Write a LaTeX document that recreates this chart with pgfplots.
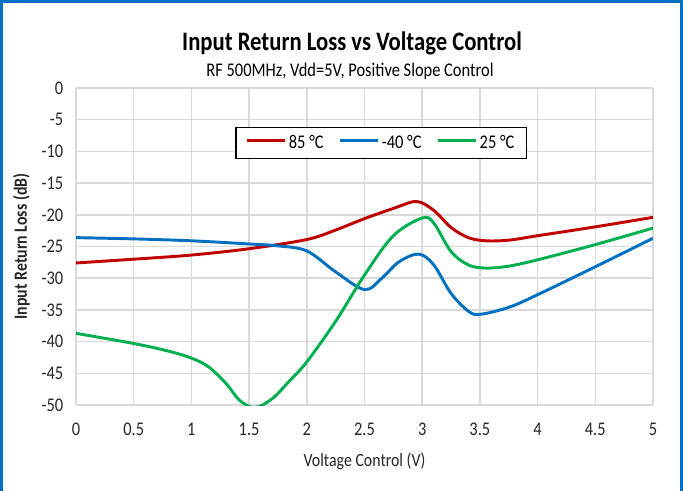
\documentclass[border=0pt]{standalone}
\usepackage{fontspec}
\setmainfont{Carlito}[FakeStretch=0.85]
\usepackage{pgfplots}
\pgfplotsset{compat=1.18}
\definecolor{cred}{HTML}{C00000}
\definecolor{cblue}{HTML}{0070C0}
\definecolor{cgreen}{HTML}{00B050}
\definecolor{cgrid}{HTML}{D9D9D9}
\begin{document}
\begin{tikzpicture}[x=0.75pt,y=0.75pt]
\useasboundingbox (0,0) rectangle (683,490);
\draw[cblue,line width=1.8pt] (1.5,-5) -- (1.5,488.5) -- (681.5,488.5) -- (681.5,-5);
\node[font=\bfseries\fontsize{20}{22}\selectfont] at (352,447) {Input Return Loss vs Voltage Control};
\node[font=\fontsize{14.5}{16}\selectfont] at (350,419) {RF 500MHz, Vdd=5V, Positive Slope Control};
\begin{axis}[
  at={(57pt,63.75pt)}, anchor=south west,
  scale only axis, width=432.75pt, height=237.75pt,
  xmin=0, xmax=5, ymin=-50, ymax=0,
  xtick={0,0.5,...,5}, ytick={-50,-45,...,0},
  xticklabels={0,0.5,1,1.5,2,2.5,3,3.5,4,4.5,5},
  grid=major, major grid style={cgrid,line width=1.1pt},
  axis line style={cgrid,line width=1.1pt},
  axis x line*=bottom, axis y line*=left,
  tick style={draw=none},
  /pgf/number format/assume math mode=true,
  ticklabel style={font=\fontsize{14.5}{16}\selectfont, text=black!85},
  xticklabel style={yshift=-10pt},
  yticklabel style={xshift=-6pt},
  xlabel={Voltage Control (V)},
  ylabel={\bfseries Input Return Loss (dB)},
  label style={font=\fontsize{14}{16}\selectfont, text=black!85},
  xlabel style={yshift=-6pt},
  ylabel style={yshift=2pt},
  legend columns=3,
  legend style={at={(0.529,0.826)}, anchor=center, draw=black, line width=0.8pt,
     font=\fontsize{14.5}{16}\selectfont, inner xsep=7pt, inner ysep=4pt,
     /tikz/every even column/.append style={column sep=9pt}},
  legend image code/.code={\draw[#1,line width=2.2pt] (0,0) -- (1.0cm,0);},
  every axis plot/.append style={line width=2.2pt, smooth, tension=0.55, no markers},
]
\addplot[cred] coordinates {
(0,-27.6) (0.5,-27.0) (1,-26.35) (1.5,-25.35) (2,-23.9) (2.25,-22.4) (2.5,-20.6)
(2.75,-19.0) (2.95,-17.9) (3.1,-19.3) (3.25,-22.0) (3.4,-23.6) (3.55,-24.1)
(3.75,-24.0) (4,-23.3) (4.5,-21.9) (5,-20.4)};
\addlegendentry{85 °C}
\addplot[cblue] coordinates {
(0,-23.6) (0.5,-23.8) (1,-24.1) (1.5,-24.6) (1.75,-24.9) (2,-25.7) (2.25,-29.0)
(2.5,-31.8) (2.65,-30.0) (2.8,-27.4) (2.97,-26.2) (3.1,-27.9) (3.25,-32.4)
(3.4,-35.2) (3.5,-35.7) (3.75,-34.6) (4,-32.6) (4.5,-28.2) (5,-23.7)};
\addlegendentry{-40 °C}
\addplot[cgreen] coordinates {
(0,-38.7) (0.5,-40.3) (0.8,-41.5) (1,-42.6) (1.15,-44.0) (1.3,-46.6) (1.42,-49.3)
(1.55,-50.4) (1.7,-49.0) (1.85,-46.2) (2,-43.2) (2.25,-36.8) (2.5,-29.5) (2.75,-23.3) (3,-20.5)
(3.1,-21.3) (3.25,-25.8) (3.4,-27.9) (3.55,-28.4) (3.75,-28.1) (4,-27.1)
(4.5,-24.7) (5,-22.1)};
\addlegendentry{25 °C}
\end{axis}
\end{tikzpicture}
\end{document}
